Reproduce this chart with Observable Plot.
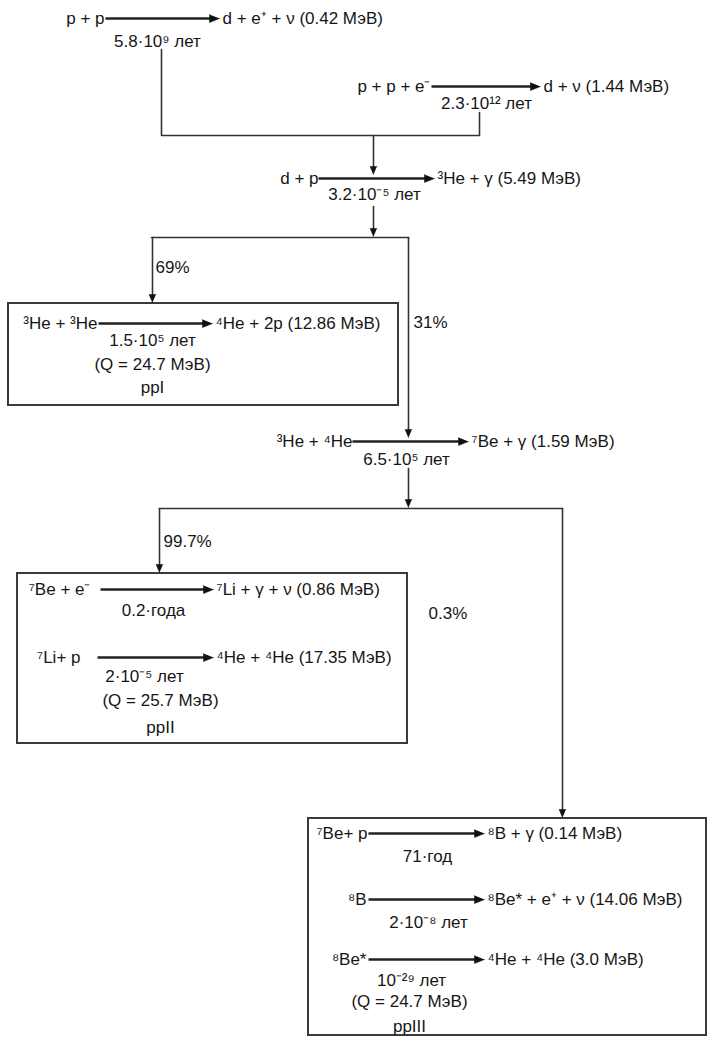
<!DOCTYPE html>
<html><head><meta charset="utf-8">
<script src="https://cdn.jsdelivr.net/npm/d3@7"></script>
<script src="https://cdn.jsdelivr.net/npm/@observablehq/plot@0.6"></script>
<style>body{margin:0;background:#fff}#chart svg{display:block}</style>
</head><body><div id="chart"></div>
<script>
// ---- content ----
const reactants = ["p + p", "p + p + e⁻", "d + p", "³He + ³He", "³He + ⁴He", "⁷Be + e⁻", "⁷Li+ p", "⁷Be+ p", "⁸B", "⁸Be*"];
const products = ["d + e⁺ + ν (0.42 МэВ)", "d + ν (1.44 МэВ)", "³He + γ (5.49 МэВ)", "⁴He + 2p (12.86 МэВ)", "⁷Be + γ (1.59 МэВ)", "⁷Li + γ + ν (0.86 МэВ)", "⁴He + ⁴He (17.35 МэВ)", "⁸B + γ (0.14 МэВ)", "⁸Be* + e⁺ + ν (14.06 МэВ)", "⁴He + ⁴He (3.0 МэВ)"];
const times = ["5.8·10⁹ лет", "2.3·10¹² лет", "3.2·10⁻⁵ лет", "1.5·10⁵ лет", "6.5·10⁵ лет", "0.2·года", "2·10⁻⁵ лет", "71·год", "2·10⁻⁸ лет", "10⁻²⁹ лет"];
const branchLabels = ["69%", "31%", "99.7%", "0.3%"];
const cycleNames = ["ppI", "ppII", "ppIII"];
const cycleQ = ["24.7", "25.7", "24.7"];

// ---- layout (diagram geometry) ----
const rowY     = [18, 86, 178, 323, 441, 589, 657, 833, 899, 959];
const arrowX1  = [105, 431, 318, 98, 352, 100, 97, 368, 368, 368];
const arrowX2  = [219, 540, 434, 212, 468, 213, 213, 484, 484, 484];
const reactEnd = [104, 430, 318, 97, 352, 90, 80, 367, 366, 366];
const timeX    = [157, 486, 374, 152, 406, 153, 144, 427, 428, 411];
const timeY    = [41, 103, 194, 340, 459, 610, 676, 856, 922, 980];
const branchX  = [155, 413, 163, 428];
const branchY  = [267, 322, 541, 613];
const boxX1 = [8, 17, 308], boxX2 = [398, 407, 706], boxY1 = [303, 573, 818], boxY2 = [405, 743, 1035];
const cycleX = [152, 160, 409], qY = [364, 700, 1001], nameY = [387, 727, 1026];
// connector polylines; arrow=true means an arrowhead at the last point
const connectors = [
  {pts: [[161, 49], [161, 135], [479, 135], [479, 112]], arrow: false},
  {pts: [[373, 135], [373, 174]], arrow: true},
  {pts: [[373, 206], [373, 236]], arrow: true},
  {pts: [[151, 237], [408, 237]], arrow: false},
  {pts: [[152, 237], [152, 302]], arrow: true},
  {pts: [[408, 237], [408, 437]], arrow: true},
  {pts: [[408, 468], [408, 507]], arrow: true},
  {pts: [[159, 508], [562, 508]], arrow: false},
  {pts: [[159, 508], [159, 572]], arrow: true},
  {pts: [[562, 508], [562, 817]], arrow: true}
];

// ---- build tables ----
const reactions = reactants.map((r, i) => ({
  r, p: products[i], t: times[i], x1: arrowX1[i], x2: arrowX2[i], y: rowY[i],
  rx: reactEnd[i], tx: timeX[i], ty: timeY[i]
}));
const boxes = cycleNames.map((n, i) => ({
  n, q: `(Q = ${cycleQ[i]} МэВ)`, x1: boxX1[i], x2: boxX2[i], y1: boxY1[i], y2: boxY2[i],
  cx: cycleX[i], qy: qY[i], ny: nameY[i]
}));
const branches = branchLabels.map((b, i) => ({b, x: branchX[i], y: branchY[i]}));

function head(tip, prev, len, half, id) {
  const dx = tip[0] - prev[0], dy = tip[1] - prev[1];
  const L = Math.hypot(dx, dy), ux = dx / L, uy = dy / L;
  const bx = tip[0] - ux * len, by = tip[1] - uy * len;
  return [
    {id, x: tip[0], y: tip[1]},
    {id, x: bx - uy * half, y: by + ux * half},
    {id, x: bx + uy * half, y: by - ux * half}
  ];
}

const connLines = [];
const heads = [];
connectors.forEach((c, i) => {
  const pts = c.pts.map(p => p.slice());
  if (c.arrow) {
    const tip = pts[pts.length - 1], prev = pts[pts.length - 2];
    heads.push(...head(tip, prev, 8, 3.4, "c" + i));
    const dy = Math.sign(tip[1] - prev[1]), dx = Math.sign(tip[0] - prev[0]);
    pts[pts.length - 1] = [tip[0] - dx * 6, tip[1] - dy * 6];
  }
  pts.forEach(p => connLines.push({id: "c" + i, x: p[0], y: p[1]}));
});
reactions.forEach((d, i) => {
  heads.push(...head([d.x2, d.y], [d.x1, d.y], 10, 4, "r" + i));
});

const font = "'Liberation Sans', Arial, sans-serif";
const fs = 17;
const ink = "#161616";

const chart = Plot.plot({
  width: 708, height: 1037,
  marginTop: 0, marginRight: 0, marginBottom: 0, marginLeft: 0,
  x: {domain: [0, 708], range: [0, 708], axis: null},
  y: {domain: [0, 1037], range: [0, 1037], axis: null},
  style: {background: "#fff", fontFamily: font},
  marks: [
    Plot.rect(boxes, {x1: "x1", x2: "x2", y1: "y1", y2: "y2", fill: "none", stroke: "#3a3a3a", strokeWidth: 2}),
    Plot.line(connLines, {x: "x", y: "y", z: "id", stroke: "#333", strokeWidth: 1.6, curve: "linear"}),
    Plot.link(reactions, {x1: "x1", x2: d => d.x2 - 8, y1: "y", y2: "y", stroke: "#222", strokeWidth: 2.6}),
    Plot.line(heads, {x: "x", y: "y", z: "id", fill: "#111", stroke: "#111", strokeWidth: 0.5}),
    Plot.text(reactions, {x: "rx", y: "y", text: "r", textAnchor: "end", fontSize: fs, fill: ink}),
    Plot.text(reactions, {x: d => d.x2 + 3, y: "y", text: "p", textAnchor: "start", fontSize: fs, fill: ink}),
    Plot.text(reactions, {x: "tx", y: "ty", text: "t", textAnchor: "middle", fontSize: fs, fill: ink}),
    Plot.text(boxes, {x: "cx", y: "qy", text: "q", textAnchor: "middle", fontSize: fs, fill: ink}),
    Plot.text(boxes, {x: "cx", y: "ny", text: "n", textAnchor: "middle", fontSize: fs, fill: ink}),
    Plot.text(branches, {x: "x", y: "y", text: "b", textAnchor: "start", fontSize: fs, fill: ink})
  ]
});
document.getElementById("chart").append(chart);
</script>
</body></html>
